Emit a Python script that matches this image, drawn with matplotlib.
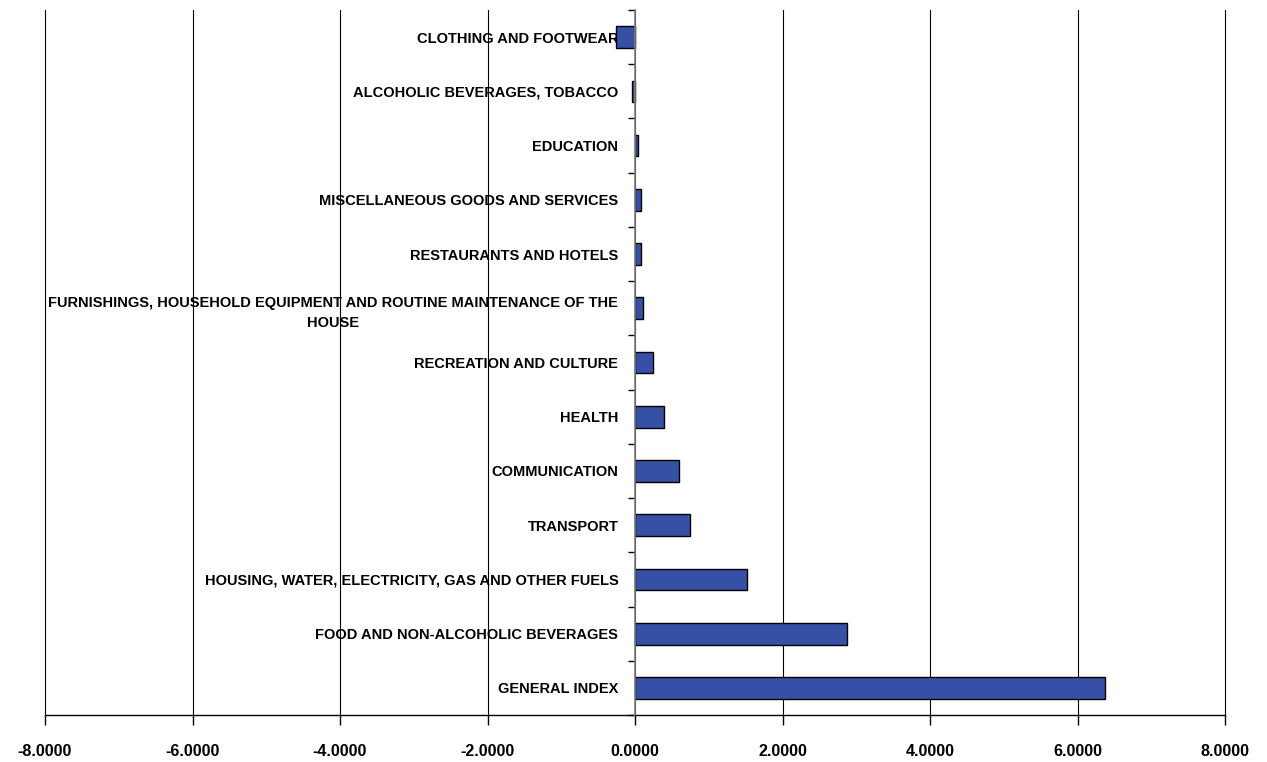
import matplotlib
matplotlib.use("Agg")
import matplotlib.pyplot as plt
import numpy as np

categories = [
    "CLOTHING AND FOOTWEAR",
    "ALCOHOLIC BEVERAGES, TOBACCO",
    "EDUCATION",
    "MISCELLANEOUS GOODS AND SERVICES",
    "RESTAURANTS AND HOTELS",
    "FURNISHINGS, HOUSEHOLD EQUIPMENT AND ROUTINE MAINTENANCE OF THE\nHOUSE",
    "RECREATION AND CULTURE",
    "HEALTH",
    "COMMUNICATION",
    "TRANSPORT",
    "HOUSING, WATER, ELECTRICITY, GAS AND OTHER FUELS",
    "FOOD AND NON-ALCOHOLIC BEVERAGES",
    "GENERAL INDEX",
]
values = [-0.254, -0.037, 0.045, 0.077, 0.080, 0.113, 0.244, 0.390,
          0.590, 0.742, 1.515, 2.877, 6.375]
xticks = [-8, -6, -4, -2, 0, 2, 4, 6, 8]

plt.rcParams["font.family"] = "Liberation Sans"

fig = plt.figure(figsize=(12.67, 7.62), dpi=100)
ax = fig.add_axes([45 / 1267, 1 - 715 / 762, (1225 - 45) / 1267, (715 - 10) / 762])

y = np.arange(len(categories))
ax.barh(y, values, height=0.4, color="#3650A6", edgecolor="black", linewidth=1.0, zorder=3)

ax.set_xlim(-8, 8)
ax.set_ylim(len(categories) - 0.5, -0.5)
ax.set_xticks(xticks)
ax.set_xticklabels(["%.4f" % v for v in xticks], fontsize=11.6, fontweight="bold")
ax.tick_params(axis="x", direction="out", length=7, width=1, pad=14)
ax.grid(axis="x", color="black", linewidth=0.8, zorder=0)
for gl in ax.xaxis.get_gridlines():
    gl.set_clip_on(False)

ax.spines["left"].set_position(("data", 0))
ax.spines["left"].set_color("#808080")
ax.spines["left"].set_linewidth(1.2)
ax.spines["left"].set_zorder(4)
ax.spines["top"].set_visible(False)
ax.spines["right"].set_visible(False)
ax.spines["bottom"].set_linewidth(1.0)

ax.set_yticks(y)
ax.set_yticklabels(categories, fontsize=10.5, fontweight="bold",
                   multialignment="center", linespacing=1.6)
ax.tick_params(axis="y", which="major", length=0, pad=12)
ax.set_yticks(np.arange(len(categories) + 1) - 0.5, minor=True)
ax.tick_params(axis="y", which="minor", direction="out", length=5, width=1, color="black")

fig.savefig("out.png", dpi=100)
